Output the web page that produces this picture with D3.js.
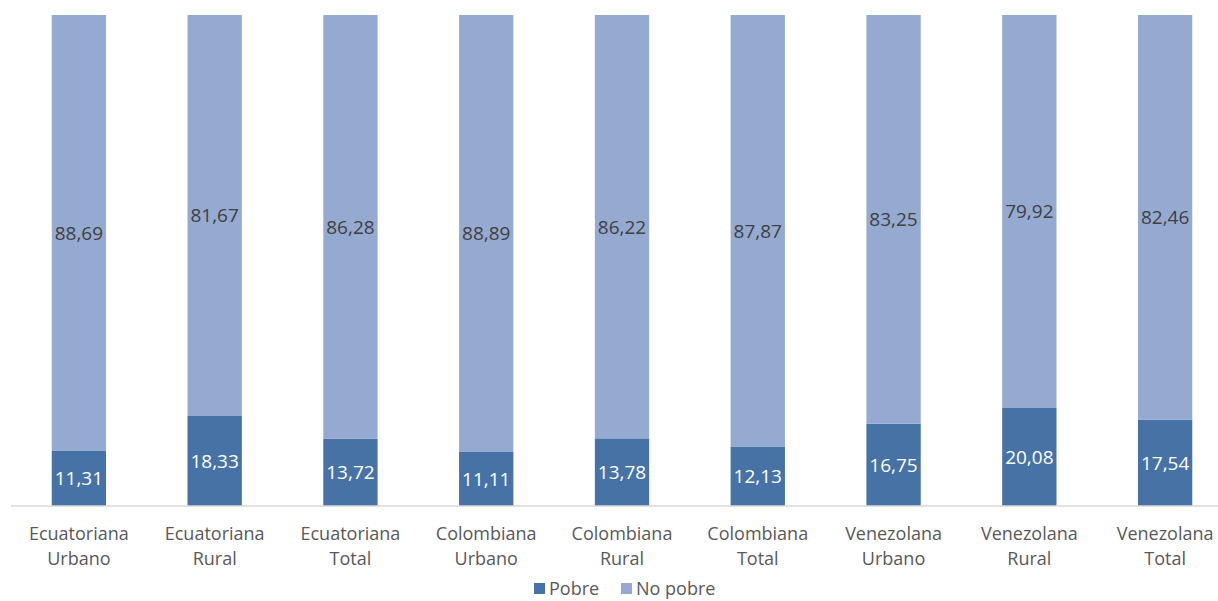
<!DOCTYPE html>
<html>
<head>
<meta charset="utf-8">
<title>Pobre / No pobre</title>
<style>
  body { margin: 0; background: #fff; }
  svg text { font-family: "Open Sans", "Noto Sans", sans-serif; }
</style>
</head>
<body>
<svg id="chart"></svg>
<script src="https://d3js.org/d3.v7.min.js"></script>
<script>
var categories = [
  ["Ecuatoriana", "Urbano"], ["Ecuatoriana", "Rural"], ["Ecuatoriana", "Total"],
  ["Colombiana", "Urbano"], ["Colombiana", "Rural"], ["Colombiana", "Total"],
  ["Venezolana", "Urbano"], ["Venezolana", "Rural"], ["Venezolana", "Total"]
];
var pobre =    [11.31, 18.33, 13.72, 11.11, 13.78, 12.13, 16.75, 20.08, 17.54];
var noPobre =  [88.69, 81.67, 86.28, 88.89, 86.22, 87.87, 83.25, 79.92, 82.46];
var seriesNames = ["Pobre", "No pobre"];

var svgWidth = 1218, svgHeight = 601;
var colors = ["#4672a6", "#95aad0"];

var svg = d3.select("#chart")
    .attr("width", svgWidth)
    .attr("height", svgHeight);

var rows = categories.map(function (c, i) {
    return { key: i, label: c, Pobre: pobre[i], "No pobre": noPobre[i] };
});

var xScale = d3.scaleBand()
    .domain(rows.map(function (d) { return d.key; }))
    .range([11, 1233])
    .paddingInner(0.6)
    .paddingOuter(0.3);

var yScale = d3.scaleLinear()
    .domain([0, 100])
    .range([506, 15]);

var stack = d3.stack().keys(seriesNames)(rows);

var groups = svg.selectAll("g.series")
    .data(stack)
    .enter()
    .append("g")
    .attr("class", "series")
    .attr("fill", function (d, i) { return colors[i]; });

groups.selectAll("rect")
    .data(function (d) { return d; })
    .enter()
    .append("rect")
    .attr("x", function (d) { return xScale(d.data.key); })
    .attr("y", function (d) { return yScale(d[1]); })
    .attr("width", xScale.bandwidth())
    .attr("height", function (d) { return yScale(d[0]) - yScale(d[1]); });

// value labels
stack.forEach(function (s, si) {
    svg.append("g").selectAll("text")
        .data(s)
        .enter()
        .append("text")
        .attr("x", function (d) { return xScale(d.data.key) + xScale.bandwidth() / 2; })
        .attr("y", function (d) { return (yScale(d[0]) + yScale(d[1])) / 2; })
        .attr("dy", "0.36em")
        .attr("text-anchor", "middle")
        .attr("font-size", "19px")
        .attr("fill", si === 0 ? "#ffffff" : "#404040")
        .text(function (d) { return (d[1] - d[0]).toFixed(2).replace(".", ","); });
});

// x axis
var xAxis = d3.axisBottom(xScale).tickSize(0).tickFormat("");
var axisG = svg.append("g")
    .attr("transform", "translate(0,506)")
    .call(xAxis);
axisG.select(".domain").attr("stroke", "#d9d9d9").attr("stroke-width", 1.5)
    .attr("d", "M11,0H1218");

var labels = svg.append("g").selectAll("text")
    .data(rows)
    .enter()
    .append("text")
    .attr("x", function (d) { return xScale(d.key) + xScale.bandwidth() / 2; })
    .attr("y", 540)
    .attr("text-anchor", "middle")
    .attr("font-size", "18px")
    .attr("fill", "#595959");
labels.append("tspan")
    .attr("x", function (d) { return xScale(d.key) + xScale.bandwidth() / 2; })
    .text(function (d) { return d.label[0]; });
labels.append("tspan")
    .attr("x", function (d) { return xScale(d.key) + xScale.bandwidth() / 2; })
    .attr("dy", 25)
    .text(function (d) { return d.label[1]; });

// legend
var legendX = [534, 621];
var legend = svg.append("g").selectAll("g")
    .data(seriesNames)
    .enter()
    .append("g")
    .attr("transform", function (d, i) { return "translate(" + legendX[i] + ",583)"; });
legend.append("rect")
    .attr("width", 11)
    .attr("height", 11)
    .attr("fill", function (d, i) { return colors[i]; });
legend.append("text")
    .attr("x", 15)
    .attr("y", 11)
    .attr("dy", "0.05em")
    .attr("font-size", "18px")
    .attr("fill", "#595959")
    .text(function (d) { return d; });
</script>
</body>
</html>
